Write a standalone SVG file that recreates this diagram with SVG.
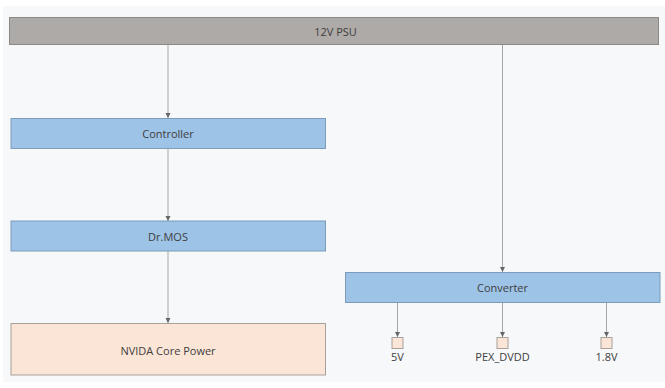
<svg xmlns="http://www.w3.org/2000/svg" width="665" height="388" viewBox="0 0 665 388">
<defs>
<style>
text{font-family:"Open Sans","Noto Sans","Liberation Sans",sans-serif;font-size:11px;fill:#404040;text-anchor:middle;dominant-baseline:central}
.psu{fill:#aeaaa8;stroke:#8c8886;stroke-width:1}
.blue{fill:#9dc3e6;stroke:#7d9cbb;stroke-width:1}
.peach{fill:#fbe5d6;stroke:#a8a09a;stroke-width:1}
.conn{stroke:#a6a6a6;stroke-width:1;fill:none;marker-end:url(#arr)}
</style>
<marker id="arr" viewBox="0 0 6 6" refX="5" refY="3" markerWidth="6" markerHeight="6" markerUnits="userSpaceOnUse" orient="auto">
<path d="M0,0.5 L5,3 L0,5.5 Z" fill="#666"/>
</marker>
</defs>
<rect x="0" y="0" width="665" height="388" fill="#ffffff"/>
<rect x="3" y="6" width="662" height="376" fill="#f7f8fa"/>
<g id="connectors">
<line class="conn" x1="168" y1="45" x2="168" y2="118"/>
<line class="conn" x1="168" y1="148" x2="168" y2="221"/>
<line class="conn" x1="168" y1="251" x2="168" y2="323"/>
<line class="conn" x1="502.5" y1="45" x2="502.5" y2="272"/>
<line class="conn" x1="397.5" y1="302" x2="397.5" y2="337"/>
<line class="conn" x1="502.5" y1="302" x2="502.5" y2="337"/>
<line class="conn" x1="606.5" y1="302" x2="606.5" y2="337"/>
</g>
<g id="psu"><rect class="psu" x="9.5" y="17.5" width="649" height="27"/><text x="335.5" y="31.5" font-size="13">12V PSU</text></g>
<g id="controller"><rect class="blue" x="11" y="118.5" width="314.5" height="30"/><text x="168" y="133.5">Controller</text></g>
<g id="drmos"><rect class="blue" x="11" y="221" width="314.5" height="30"/><text x="168" y="236">Dr.MOS</text></g>
<g id="nvidia"><rect class="peach" x="11" y="323.5" width="314.5" height="51.5"/><text x="168" y="350">NVIDA Core Power</text></g>
<g id="converter"><rect class="blue" x="345.5" y="272.5" width="314.5" height="30"/><text x="502.5" y="287.5">Converter</text></g>
<g id="v5"><rect class="peach" x="392" y="337.5" width="11" height="11"/><text x="397.5" y="356" font-size="10">5V</text></g>
<g id="pexdvdd"><rect class="peach" x="497" y="337.5" width="11" height="11"/><text x="502.5" y="356" font-size="10">PEX_DVDD</text></g>
<g id="v18"><rect class="peach" x="601" y="337.5" width="11" height="11"/><text x="606.5" y="356" font-size="10">1.8V</text></g>
</svg>
